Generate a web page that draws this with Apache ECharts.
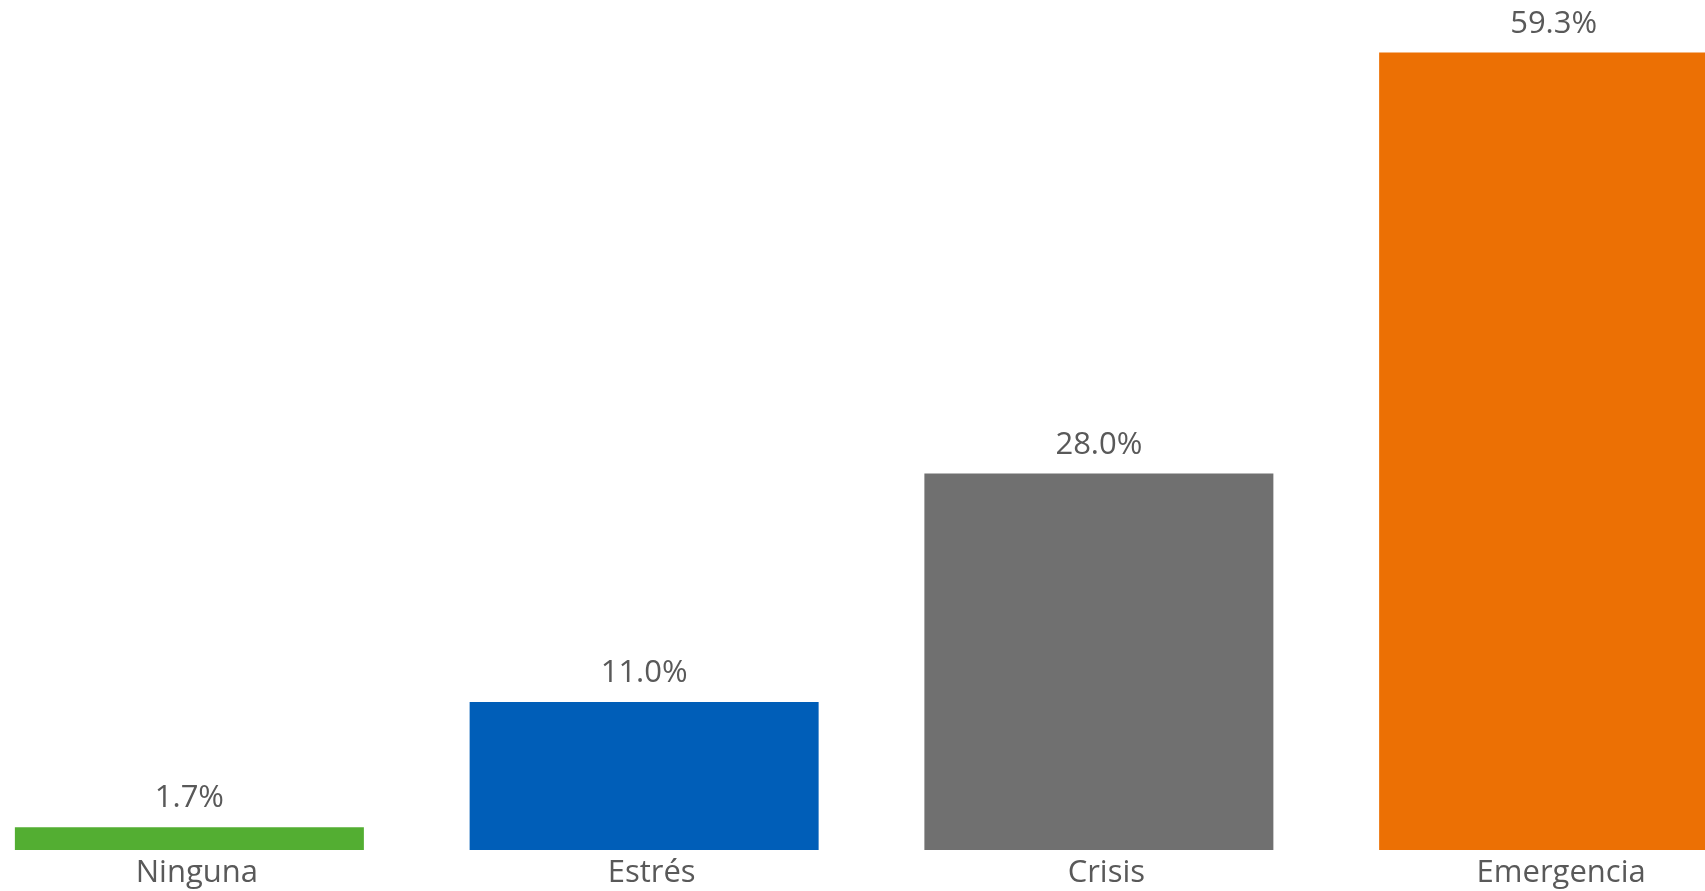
<!DOCTYPE html>
<html><head><meta charset="utf-8">
<script src="https://cdn.jsdelivr.net/npm/echarts@6/dist/echarts.min.js"></script>
<style>html,body{margin:0;padding:0;background:#fff;overflow:hidden;width:1705px;height:891px}#c{position:absolute;left:-38px;top:0;width:1819px;height:891px}</style>
</head><body><div id="c"></div>
<script>
const categories = ['Ninguna', 'Estrés', 'Crisis', 'Emergencia'];
const values = [1.7, 11.0, 28.0, 59.3];
const colors = ['#53AE32', '#005EB8', '#707070', '#EC7004'];
const chart = echarts.init(document.getElementById('c'));
chart.setOption({
  animation: false,
  grid: { left: 0, right: 0, top: 43, bottom: 41, containLabel: false },
  xAxis: {
    type: 'category', data: categories,
    axisLine: { show: false }, axisTick: { show: false },
    axisLabel: { color: '#595959', fontSize: 31, fontFamily: 'Open Sans', margin: 8, padding: [0, 0, 0, 15] }
  },
  yAxis: { type: 'value', min: 0, max: 60, show: false, splitLine: { show: false } },
  series: [{
    type: 'bar', barWidth: 349,
    data: values.map((v, i) => ({ value: v, itemStyle: { color: colors[i] } })),
    label: { show: true, position: 'top', distance: 13, color: '#595959', fontSize: 31, fontFamily: 'Open Sans',
      formatter: p => p.value.toFixed(1) + '%' }
  }]
});
</script></body></html>
